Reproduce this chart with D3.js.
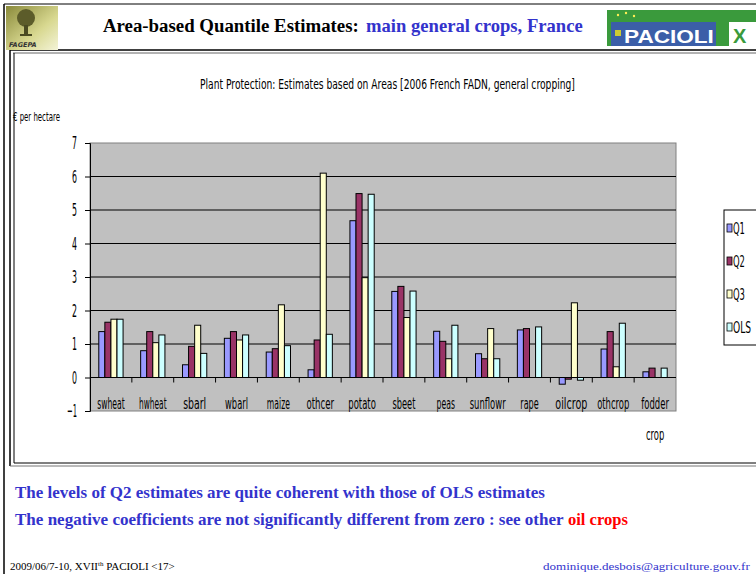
<!DOCTYPE html>
<html>
<head>
<meta charset="utf-8">
<script src="https://cdn.jsdelivr.net/npm/d3@7"></script>
<style>
  html, body { margin: 0; padding: 0; background: #fff; }
  svg { display: block; }
</style>
</head>
<body>
<svg id="slide" width="756" height="574"></svg>
<script>
// Crop groups (x axis)
const categories = ["swheat", "hwheat", "sbarl", "wbarl", "maize", "othcer", "potato",
                    "sbeet", "peas", "sunflowr", "rape", "oilcrop", "othcrop", "fodder crop"];
// Estimated coefficients, € per hectare
const q1  = [1.37, 0.80, 0.38, 1.17, 0.76, 0.23, 4.68, 2.57, 1.38, 0.71, 1.42, -0.20, 0.85, 0.17];
const q2  = [1.65, 1.37, 0.93, 1.37, 0.86, 1.12, 5.49, 2.72, 1.08, 0.56, 1.46, -0.05, 1.37, 0.28];
const q3  = [1.74, 1.04, 1.56, 1.12, 2.17, 6.10, 2.98, 1.79, 0.56, 1.46, 0.00, 2.23, 0.32, 0.00];
const ols = [1.74, 1.27, 0.72, 1.27, 0.95, 1.29, 5.47, 2.58, 1.56, 0.56, 1.51, -0.08, 1.62, 0.28];
const seriesNames = ["Q1", "Q2", "Q3", "OLS"];
const seriesColors = ["#9999ff", "#993366", "#ffffcc", "#ccffff"];
const yTicks = [-1, 0, 1, 2, 3, 4, 5, 6, 7];

const seriesValues = [q1, q2, q3, ols];
const svg = d3.select("#slide");
const narrow = "'DejaVu Sans', sans-serif";
const serifFont = "'Liberation Serif', serif";

// Compress a text horizontally (condensed look) so that it spans `width` pixels,
// scaling about its own anchor point.
function fit(sel, width) {
  sel.each(function (d, i) {
    const el = this;
    const w = el.getComputedTextLength();
    const target = typeof width === "function" ? width.call(el, d, i) : width;
    const s = target / w;
    const ax = +el.getAttribute("x") || 0;
    const ay = +el.getAttribute("y") || 0;
    const base = el.getAttribute("transform") || "";
    el.setAttribute("transform", `${base} translate(${ax},${ay}) scale(${s},1) translate(${-ax},${-ay})`);
  });
}

// ---------- slide frame ----------
const frame = svg.append("g").attr("fill", "none").attr("stroke", "#000");
frame.append("line").attr("x1", 4).attr("y1", 4).attr("x2", 756).attr("y2", 4).attr("stroke-width", 1);
frame.append("line").attr("x1", 4).attr("y1", 4).attr("x2", 4).attr("y2", 574).attr("stroke-width", 1.5);
frame.append("line").attr("x1", 10).attr("y1", 50).attr("x2", 756).attr("y2", 50).attr("stroke-width", 1.5);
frame.append("line").attr("x1", 13).attr("y1", 53).attr("x2", 756).attr("y2", 53).attr("stroke", "#666");
frame.append("line").attr("x1", 10).attr("y1", 50).attr("x2", 10).attr("y2", 466).attr("stroke-width", 1.5);
frame.append("line").attr("x1", 14).attr("y1", 53).attr("x2", 14).attr("y2", 463).attr("stroke-width", 1);
frame.append("line").attr("x1", 14).attr("y1", 463).attr("x2", 756).attr("y2", 463).attr("stroke-width", 1);
frame.append("line").attr("x1", 10).attr("y1", 466).attr("x2", 756).attr("y2", 466).attr("stroke", "#777");

// ---------- left logo ----------
const defs = svg.append("defs");
const lg = defs.append("linearGradient").attr("id", "olive").attr("x1", 0).attr("y1", 0).attr("x2", 1).attr("y2", 1);
lg.append("stop").attr("offset", 0).attr("stop-color", "#8a8a3a");
lg.append("stop").attr("offset", 0.6).attr("stop-color", "#d8d890");
lg.append("stop").attr("offset", 1).attr("stop-color", "#f4f4d8");
const logo = svg.append("g");
logo.append("rect").attr("x", 6).attr("y", 6).attr("width", 52).attr("height", 44).attr("fill", "url(#olive)");
logo.append("ellipse").attr("cx", 26).attr("cy", 18).attr("rx", 9).attr("ry", 9).attr("fill", "#5c5c2a");
logo.append("rect").attr("x", 24).attr("y", 25).attr("width", 4).attr("height", 10).attr("fill", "#4a4a22");
logo.append("rect").attr("x", 20).attr("y", 34).attr("width", 12).attr("height", 2).attr("fill", "#4a4a22");
logo.append("text").attr("x", 9).attr("y", 47).attr("font-family", "'DejaVu Sans', sans-serif")
  .attr("font-size", 6.5).attr("font-weight", "bold").attr("font-style", "italic").attr("fill", "#333").text("FAGEPA");

// ---------- right logo ----------
const rl = svg.append("g");
rl.append("rect").attr("x", 607).attr("y", 10).attr("width", 149).attr("height", 36).attr("fill", "#3a9a3c");
rl.append("rect").attr("x", 611).attr("y", 22).attr("width", 105).attr("height", 24).attr("fill", "#3b5ea8");
rl.append("rect").attr("x", 729).attr("y", 22).attr("width", 27).attr("height", 24).attr("fill", "#fff");
rl.append("rect").attr("x", 615).attr("y", 30).attr("width", 6).attr("height", 6).attr("fill", "#cccc33");
[[618, 15], [626, 13], [634, 16]].forEach(p =>
  rl.append("circle").attr("cx", p[0]).attr("cy", p[1]).attr("r", 1.2).attr("fill", "#ffee55"));
rl.append("text").attr("x", 624).attr("y", 43).attr("font-family", "'Liberation Sans', Arial, sans-serif")
  .attr("font-size", 19).attr("font-weight", "bold").attr("fill", "#fff").text("PACIOLI").call(fit, 90);
rl.append("text").attr("x", 733).attr("y", 43).attr("font-family", "'Liberation Sans', Arial, sans-serif")
  .attr("font-size", 20).attr("font-weight", "bold").attr("fill", "#3a9a3c").text("X");

// ---------- slide title ----------
svg.append("text").attr("x", 103).attr("y", 32).attr("font-family", serifFont).attr("font-size", 18)
  .attr("font-weight", "bold").attr("fill", "#000").text("Area-based Quantile Estimates:").call(fit, 256);
svg.append("text").attr("x", 366).attr("y", 32).attr("font-family", serifFont).attr("font-size", 18)
  .attr("font-weight", "bold").attr("fill", "#3333cc").text("main general crops, France").call(fit, 217);

// ---------- chart ----------
const plot = { left: 90, right: 676, top: 143, bottom: 411 };
const y = d3.scaleLinear().domain([-1, 7]).range([plot.bottom, plot.top]);
const x = d3.scaleBand().domain(categories).range([plot.left, plot.right])
  .paddingInner(0.42).paddingOuter(0.21);
const xs = d3.scaleBand().domain(seriesNames).range([0, x.bandwidth()]).padding(0);

svg.append("text").attr("x", 200).attr("y", 89)
  .attr("font-family", narrow).attr("font-size", 14).attr("fill", "#000")
  .text("Plant Protection: Estimates based on Areas [2006 French FADN, general cropping]")
  .call(fit, 375);

svg.append("text").attr("x", 13).attr("y", 121).attr("font-family", narrow).attr("font-size", 12)
  .attr("fill", "#000").text("€ per hectare").call(fit, 47);

// plot background
svg.append("rect").attr("x", plot.left).attr("y", plot.top)
  .attr("width", plot.right - plot.left).attr("height", plot.bottom - plot.top)
  .attr("fill", "#c0c0c0").attr("stroke", "#808080").attr("stroke-width", 1);

// gridlines
svg.append("g").selectAll("line").data(yTicks.filter(t => t > 0 && t < 7)).join("line")
  .attr("x1", plot.left).attr("x2", plot.right)
  .attr("y1", d => y(d)).attr("y2", d => y(d))
  .attr("stroke", "#000").attr("stroke-width", 1);

// y axis
const yAxis = svg.append("g").attr("transform", `translate(${plot.left},0)`)
  .call(d3.axisLeft(y).tickValues(yTicks).tickSize(5).tickPadding(8).tickFormat(d3.format("d")));
yAxis.select(".domain").attr("stroke", "#000");
yAxis.selectAll(".tick line").attr("stroke", "#000");
yAxis.selectAll("text").attr("font-family", narrow).attr("font-size", 18).attr("fill", "#000")
  .call(fit, function () { return this.textContent.length * 5; });

// bars
const groups = svg.append("g").selectAll("g").data(categories).join("g")
  .attr("transform", d => `translate(${x(d)},0)`);
groups.selectAll("rect").data((d, i) => seriesNames.map((s, k) => ({ s, k, v: seriesValues[k][i] })))
  .join("rect")
  .attr("x", d => xs(d.s))
  .attr("width", xs.bandwidth())
  .attr("y", d => y(Math.max(0, d.v)))
  .attr("height", d => Math.abs(y(d.v) - y(0)))
  .attr("fill", d => seriesColors[d.k])
  .attr("stroke", "#000").attr("stroke-width", 1);

// x axis at zero with ticks between categories
svg.append("line").attr("x1", plot.left).attr("x2", plot.right)
  .attr("y1", y(0)).attr("y2", y(0)).attr("stroke", "#000").attr("stroke-width", 1);
svg.append("g").selectAll("line").data(d3.range(1, categories.length)).join("line")
  .attr("x1", i => plot.left + i * (plot.right - plot.left) / categories.length)
  .attr("x2", i => plot.left + i * (plot.right - plot.left) / categories.length)
  .attr("y1", y(0)).attr("y2", y(0) + 5).attr("stroke", "#000");

// category labels (two-word names wrap onto a second line)
const labels = svg.append("g");
categories.forEach(d => {
  d.split(" ").forEach((part, j) => {
    labels.append("text")
      .attr("x", x(d) + x.bandwidth() / 2)
      .attr("y", 409 + j * 31)
      .attr("text-anchor", "middle")
      .attr("font-family", narrow).attr("font-size", 16).attr("fill", "#000")
      .text(part)
      .call(fit, Math.min(36, part.length * 4.6));
  });
});

// legend
const legend = svg.append("g");
legend.append("rect").attr("x", 724).attr("y", 210).attr("width", 40).attr("height", 135)
  .attr("fill", "#fff").attr("stroke", "#000");
const ly = d3.scalePoint().domain(seriesNames).range([228, 327]);
seriesNames.forEach((s, k) => {
  legend.append("rect").attr("x", 727).attr("y", ly(s) - 4).attr("width", 5).attr("height", 8)
    .attr("fill", seriesColors[k]).attr("stroke", "#000").attr("stroke-width", 0.8);
  legend.append("text").attr("x", 733).attr("y", ly(s) + 6).attr("font-family", narrow)
    .attr("font-size", 16).attr("fill", "#000").text(s).call(fit, s.length * 6);
});

// ---------- comments under the chart ----------
svg.append("text").attr("x", 15).attr("y", 498).attr("font-family", serifFont).attr("font-size", 16)
  .attr("font-weight", "bold").attr("fill", "#3333cc")
  .text("The levels of Q2 estimates are quite coherent with those of OLS estimates").call(fit, 530);
svg.append("text").attr("x", 15).attr("y", 525).attr("font-family", serifFont).attr("font-size", 16)
  .attr("font-weight", "bold").attr("fill", "#3333cc")
  .text("The negative coefficients are not significantly different from zero : see other").call(fit, 549);
svg.append("text").attr("x", 568).attr("y", 525).attr("font-family", serifFont).attr("font-size", 16)
  .attr("font-weight", "bold").attr("fill", "#ff0000").text("oil crops").call(fit, 60);

// ---------- footer ----------
const foot = svg.append("text").attr("x", 10).attr("y", 570).attr("font-family", serifFont)
  .attr("font-size", 11).attr("fill", "#000");
foot.append("tspan").text("2009/06/7-10, XVII");
foot.append("tspan").attr("dy", -4).attr("font-size", 7).text("th");
foot.append("tspan").attr("dy", 4).text(" PACIOLI <17>");
svg.append("text").attr("x", 543).attr("y", 570).attr("font-family", serifFont).attr("font-size", 11)
  .attr("fill", "#3333cc").text("dominique.desbois@agriculture.gouv.fr").call(fit, 207);
</script>
</body>
</html>
